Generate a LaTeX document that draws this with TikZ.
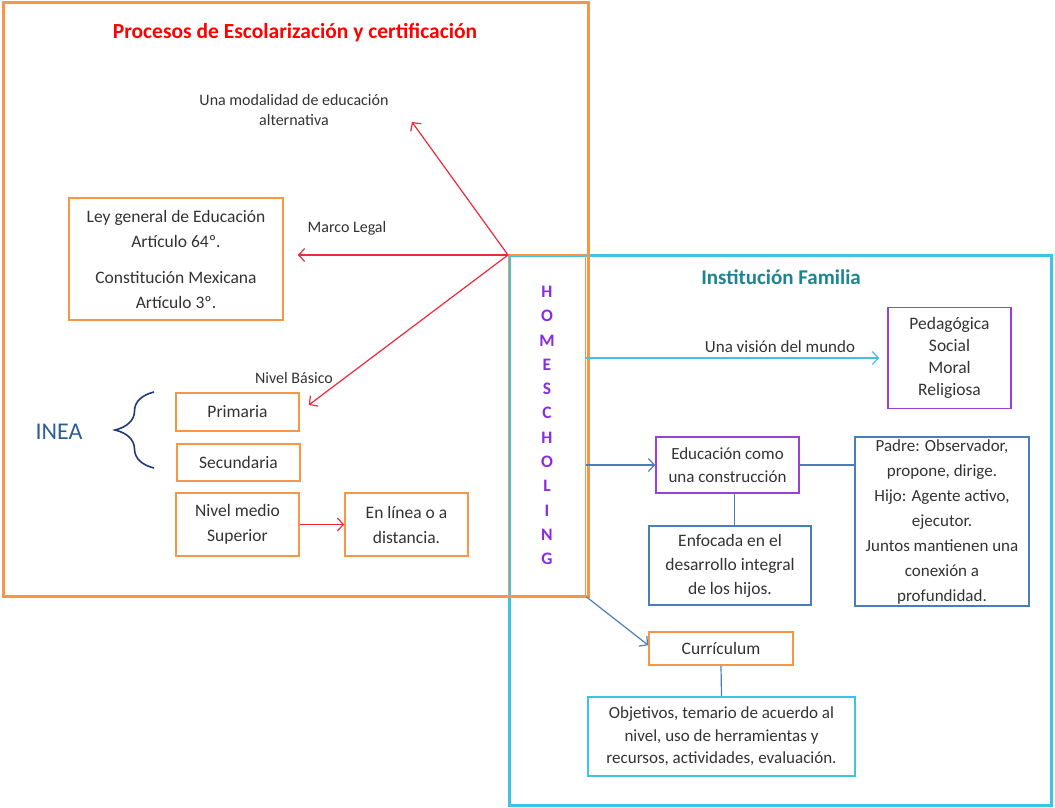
\documentclass[tikz,border=0pt]{standalone}
\usepackage{fontspec}
\setmainfont{Carlito}
\usetikzlibrary{arrows.meta,decorations.pathreplacing}
\definecolor{orng}{HTML}{F79646}
\definecolor{cyn}{HTML}{3CC4E6}
\definecolor{blu}{HTML}{4A7EBB}
\definecolor{purp}{HTML}{9B3FD6}
\definecolor{redar}{HTML}{F0283C}
\definecolor{tealt}{HTML}{1B8594}
\definecolor{navy}{HTML}{1F3A78}
\definecolor{ineab}{HTML}{2E5C9A}
\definecolor{txt}{HTML}{333333}
\definecolor{homep}{HTML}{8A2BE2}
\begin{document}
\begin{tikzpicture}[x=1pt,y=-1pt,
  box/.style={draw, line width=1.6pt, align=center, inner sep=0pt, text=txt,
    font=\fontsize{17.5}{25}\selectfont},
  lbl/.style={align=center, inner sep=0pt, text=txt, font=\fontsize{16}{20}\selectfont},
  redarrow/.style={draw=redar, line width=1.2pt, -{Straight Barb[length=6pt,width=13pt]}},
  cyarrow/.style={draw=cyn, line width=1.2pt, -{Straight Barb[length=6pt,width=13pt]}},
  bluarrow/.style={draw=blu, line width=1.2pt, -{Straight Barb[length=6pt,width=13pt]}},
  bluline/.style={draw=blu, line width=1.2pt}]
\useasboundingbox (0,0) rectangle (1055,808);
\fill[white] (0,0) rectangle (1055,808);

% outer frames
\draw[cyn, line width=3pt] (509,255) rectangle (1051,805);
\node[draw=orng, line width=1.5pt, minimum width=77pt, minimum height=341pt, inner sep=0pt,
  text=homep, align=center, font=\bfseries\fontsize{17.5}{24.3}\selectfont] (home) at (547,425.5)
  {H\\O\\M\\E\\S\\C\\H\\O\\L\\I\\N\\G};
\draw[orng, line width=3pt] (3,3) rectangle (588,596);

% left side
\node[text=red, font=\bfseries\fontsize{21.5}{24}\selectfont] (title) at (295,33)
  {Procesos de Escolarización y certificación};
\node[lbl] (alt) at (294,110) {Una modalidad de educación\\alternativa};
\coordinate (hub) at (508,255);
\coordinate (altTip) at (412,122);
\node[lbl] (marco) at (347,228) {Marco Legal};
\node[lbl] (nivel) at (294,378) {Nivel Básico};

\node[box, draw=orng, minimum width=214pt, minimum height=122pt] (ley) at (176,259)
  {Ley general de Educación\\Artículo 64º.\\[11pt]Constitución Mexicana\\Artículo 3º.};
\node[box, draw=orng, minimum width=123pt, minimum height=38pt] (prim) at (237.5,412) {Primaria};
\node[box, draw=orng, minimum width=123pt, minimum height=37pt] (sec) at (238.5,462.5) {Secundaria};
\node[box, draw=orng, minimum width=123pt, minimum height=63pt] (medio) at (237.5,524.5) {Nivel medio\\Superior};
\node[box, draw=orng, minimum width=123pt, minimum height=63pt] (linea) at (406.5,524.5) {En línea o a\\distancia.};

\node[text=ineab, font=\fontsize{24}{28}\selectfont, inner sep=0pt] (inea) at (59,432) {INEA};
\draw[navy, line width=1.6pt, decorate, decoration={brace, amplitude=39pt, aspect=0.5}]
  (154,468) -- (154,392);

\draw[redarrow] (hub) -- (altTip);
\draw[redarrow] (hub) -- ([xshift=14pt]ley.east |- hub);
\draw[redarrow] (hub) -- ([xshift=9pt,yshift=7pt]prim.east);
\draw[redarrow] (medio.east) -- (linea.west);

% right side
\node[text=tealt, font=\bfseries\fontsize{21}{24}\selectfont] (inst) at (781,277) {Institución Familia};
\node[lbl, font=\fontsize{17}{20}\selectfont] (vision) at (780,347) {Una visión del mundo};
\node[box, draw=purp, minimum width=123pt, minimum height=101pt,
  font=\fontsize{17.5}{22}\selectfont] (ped) at (949.5,358) {Pedagógica\\Social\\Moral\\Religiosa};
\node[box, draw=purp, minimum width=143pt, minimum height=56pt,
  font=\fontsize{17}{23}\selectfont] (edu) at (727.5,465) {Educación como\\una construcción};
\node[box, draw=blu, minimum width=174pt, minimum height=169pt,
  font=\fontsize{17}{25}\selectfont] (padre) at (942,521.5)
  {Padre: Observador,\\propone, dirige.\\Hijo: Agente activo,\\ejecutor.\\Juntos mantienen una\\conexión a\\profundidad.};
\node[box, draw=blu, minimum width=162pt, minimum height=79pt,
  font=\fontsize{17.5}{24}\selectfont] (enf) at (730,565.5) {Enfocada en el\\desarrollo integral\\de los hijos.};
\node[box, draw=orng, minimum width=144pt, minimum height=33pt] (cur) at (721,648.5) {Currículum};
\node[box, draw=cyn, minimum width=267pt, minimum height=79pt,
  font=\fontsize{17}{22.5}\selectfont] (obj) at (721.5,736.5)
  {Objetivos, temario de acuerdo al\\nivel, uso de herramientas y\\recursos, actividades, evaluación.};

\draw[cyarrow] (home.east |- ped.west) -- ([xshift=-8pt]ped.west);
\draw[bluarrow] (home.east |- edu.west) -- (edu.west);
\draw[bluline] (edu.east) -- (edu.east -| padre.west);
\draw[bluline] ([xshift=7pt]edu.south) -- ([xshift=7pt]edu.south |- enf.north);
\draw[bluarrow] (home.south east) -- ([yshift=-14pt]cur.north west);
\draw[bluline] (cur.south) -- (obj.north);
\end{tikzpicture}
\end{document}
